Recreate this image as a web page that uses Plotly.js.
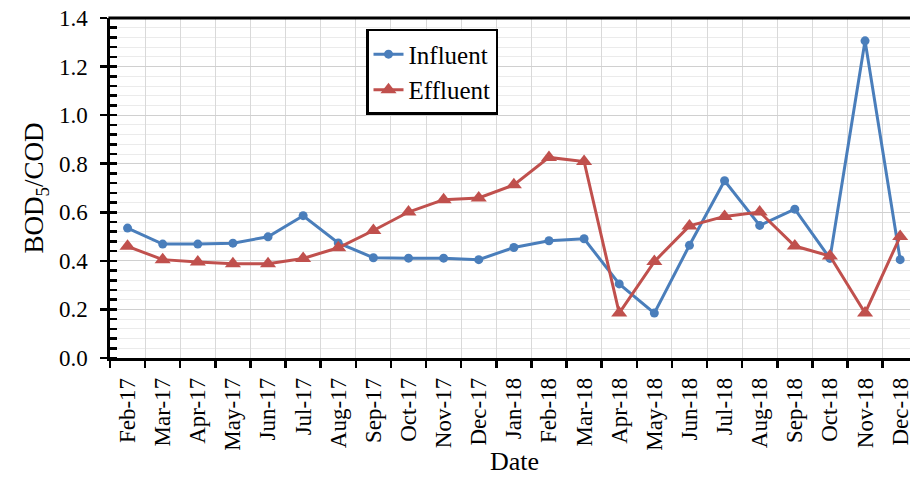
<!DOCTYPE html>
<html>
<head>
<meta charset="utf-8">
<script src="https://cdn.plot.ly/plotly-3.0.1.min.js"></script>
<style>html,body{margin:0;padding:0;background:#fff;}#chart{width:910px;height:477px;}</style>
</head>
<body>
<div id="chart"></div>
<script>
const months = ["Feb-17","Mar-17","Apr-17","May-17","Jun-17","Jul-17","Aug-17","Sep-17","Oct-17","Nov-17","Dec-17","Jan-18","Feb-18","Mar-18","Apr-18","May-18","Jun-18","Jul-18","Aug-18","Sep-18","Oct-18","Nov-18","Dec-18"];
const influent = [0.535,0.469,0.469,0.473,0.499,0.586,0.474,0.413,0.411,0.411,0.405,0.455,0.483,0.491,0.305,0.185,0.464,0.730,0.546,0.613,0.410,1.306,0.405];
const effluent = [0.460,0.405,0.395,0.388,0.388,0.410,0.454,0.525,0.601,0.652,0.659,0.713,0.826,0.809,0.185,0.397,0.544,0.583,0.601,0.461,0.420,0.185,0.500];
const xTitle = "Date";
const yTitle = "BOD<sub>5</sub>/COD";

const font = "Liberation Serif, Times New Roman, serif";
const traces = [
  {x: months, y: influent, name: "Influent", type: "scatter", mode: "lines+markers",
   legendgroup: "a",
   line: {color: "#4a7ebb", width: 3}, marker: {symbol: "circle", size: 9, color: "#4a7ebb"}},
  {x: months, y: effluent, name: "Effluent", type: "scatter", mode: "lines+markers",
   legendgroup: "b",
   line: {color: "#c0504d", width: 3}, marker: {symbol: "triangle-up", size: 14, color: "#c0504d"}}
];
const xr = [-0.5, 22.28];
const yr = [0, 1.4];
const layout = {
  width: 910, height: 477,
  margin: {l: 110, r: 0, t: 18, b: 119},
  paper_bgcolor: "#fff", plot_bgcolor: "#fff",
  font: {family: font, color: "#000", size: 23},
  showlegend: true,
  legend: {x: 0.32, y: 0.968, xanchor: "left", yanchor: "top",
    bgcolor: "#fff", bordercolor: "#000", borderwidth: 2.5,
    font: {family: font, size: 25, color: "#000"}, tracegroupgap: 0,
    itemwidth: 30},
  xaxis: {type: "category", range: xr, tickson: "boundaries",
    ticks: "outside", ticklen: 7, tickwidth: 2.5, tickcolor: "#000",
    showline: true, linecolor: "#000", linewidth: 3,
    showgrid: true, gridcolor: "#d9d9d9", gridwidth: 1,
    tickangle: -90, tickfont: {family: font, size: 23},
    ticksuffix: "\u2004",
    zeroline: false, fixedrange: true, automargin: false},
  xaxis2: {overlaying: "x", anchor: "y", range: xr, tick0: 0.5, dtick: 1,
    ticks: "inside", ticklen: 7, tickwidth: 2.5, tickcolor: "#000",
    showticklabels: false, showgrid: false, showline: false, zeroline: false},
  yaxis: {range: yr, dtick: 0.2, tickformat: ".1f",
    ticks: "outside", ticklen: 7, tickwidth: 2.5, tickcolor: "#000",
    showline: true, linecolor: "#000", linewidth: 3,
    showgrid: true, gridcolor: "#d0d0d0", gridwidth: 1,
    tickfont: {family: font, size: 23},
    ticksuffix: "\u2004",
    minor: {dtick: 0.04, ticks: "inside", ticklen: 7, tickwidth: 2.5, tickcolor: "#000",
      showgrid: true, gridcolor: "#ebebeb", gridwidth: 1},
    title: {text: yTitle, font: {family: font, size: 27}, standoff: 8},
    zeroline: false, fixedrange: true},
  yaxis2: {overlaying: "y", anchor: "x", range: yr, dtick: 0.2,
    ticks: "inside", ticklen: 7, tickwidth: 2.5, tickcolor: "#000",
    showticklabels: false, showgrid: false, showline: false, zeroline: false},
  annotations: [
    {text: xTitle, xref: "paper", yref: "paper", x: 0.505, y: -0.303,
     xanchor: "center", yanchor: "middle", showarrow: false,
     font: {family: font, size: 26, color: "#000"}}
  ],
  shapes: [
    {type: "line", xref: "paper", yref: "paper", x0: -0.002, x1: 1, y0: 1, y1: 1,
     line: {color: "#000", width: 3}}
  ]
};
Plotly.newPlot("chart", traces, layout, {displayModeBar: false, staticPlot: true});
</script>
</body>
</html>
